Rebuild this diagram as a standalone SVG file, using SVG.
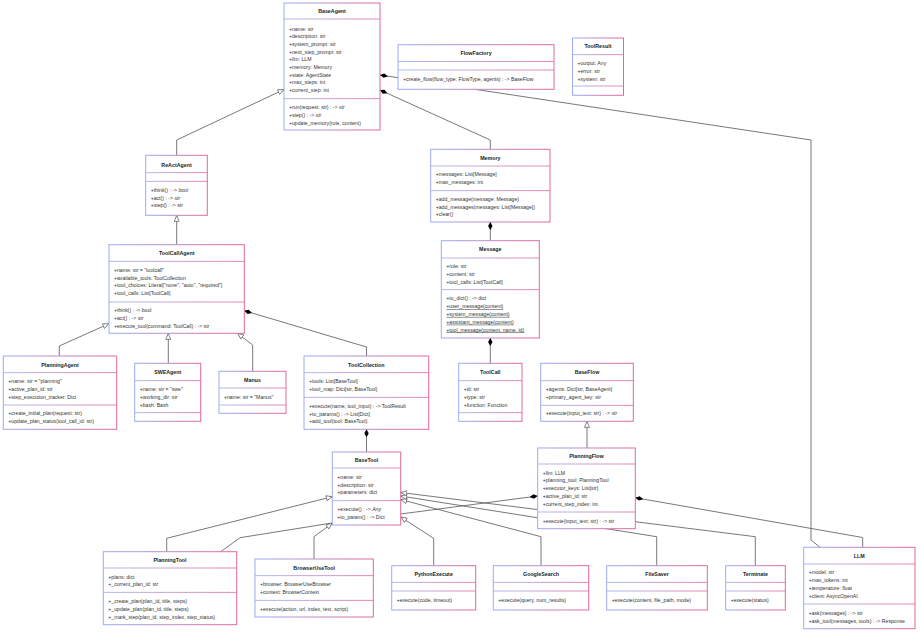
<svg xmlns="http://www.w3.org/2000/svg" width="920" height="634" viewBox="0 0 920 634">
<defs>
<linearGradient id="g" x1="0" y1="0" x2="1" y2="0">
<stop offset="0" stop-color="#9aacf2"/>
<stop offset="1" stop-color="#e3679b"/>
</linearGradient>
<marker id="tri" viewBox="0 0 7 6" refX="6.6" refY="3" markerWidth="7" markerHeight="6" markerUnits="userSpaceOnUse" orient="auto">
<path d="M0.5,0.5 L6.5,3 L0.5,5.5 Z" fill="#fff" stroke="#555" stroke-width="0.7"/>
</marker>
<marker id="dia" viewBox="0 0 8 5" refX="0" refY="2.5" markerWidth="8" markerHeight="5" markerUnits="userSpaceOnUse" orient="auto">
<path d="M0,2.5 L4,0.3 L8,2.5 L4,4.7 Z" fill="#000"/>
</marker>
</defs>
<style>
.box{fill:#fff;stroke:url(#g);stroke-width:1}
.d{fill:url(#g)}
.t{font-family:"Liberation Sans",Arial,sans-serif;font-size:5.3px;font-weight:bold;fill:#222;text-anchor:middle}
.a{font-family:"Liberation Sans",Arial,sans-serif;font-size:5.15px;fill:#333}
.u{text-decoration:underline}
.i{font-style:italic}
.c{fill:none;stroke:#555;stroke-width:0.8}
.ci{marker-end:url(#tri)}
.cd{marker-start:url(#dia)}
</style>
<rect width="920" height="634" fill="#fff"/>
<g id="connectors">
<path class="c ci" d="M176.7,155.3 L176.7,140 L284,89.5"/>
<path class="c ci" d="M176.7,244.7 L176.7,215.3"/>
<path class="c ci" d="M59.3,356 L59.3,346 L109,323.7"/>
<path class="c ci" d="M168.3,363.3 L168.3,333.3"/>
<path class="c ci" d="M252.7,371.3 L252.7,345 L237.5,333.3"/>
<path class="c cd" d="M380,90 L490.3,140 L490.3,149.3"/>
<path class="c cd" d="M380,75 L811,140 L811,540 L820,547.3"/>
<path class="c cd" d="M244.3,310.7 L366.5,347 L366.5,356"/>
<path class="c cd" d="M490.3,222 L490.3,240.7"/>
<path class="c cd" d="M490.3,338 L490.3,363.3"/>
<path class="c cd" d="M366.5,429.3 L366.5,452"/>
<path class="c ci" d="M587,448 L587,421.3"/>
<path class="c cd" d="M537.7,496 L332,523 L240,537.7 L220.7,551.7"/>
<path class="c cd" d="M635.3,497.7 L862.7,537.5 L862.7,547.3"/>
<path class="c ci" d="M166.7,551.7 L166.7,538.3 L332.3,496.7"/>
<path class="c ci" d="M314,559 L314,536.7 L332.3,523.3"/>
<path class="c ci" d="M433.7,565.7 L433.7,538.3 L400.7,517"/>
<path class="c ci" d="M541,565.7 L541,536.7 L400.7,499.5"/>
<path class="c ci" d="M656.7,565.7 L656.7,536.7 L400.7,496"/>
<path class="c ci" d="M755.3,565.7 L755.3,536.7 L400.7,492.5"/>
</g>
<g id="BaseAgent">
<rect class="box" x="284" y="3" width="96" height="127"/>
<text class="t" x="332" y="12.8">BaseAgent</text>
<rect class="d" x="284" y="18.6" width="96" height="0.8"/>
<text class="a" x="289" y="30.5">+name: str</text>
<text class="a" x="289" y="38.2">+description: str</text>
<text class="a" x="289" y="45.9">+system_prompt: str</text>
<text class="a" x="289" y="53.6">+next_step_prompt: str</text>
<text class="a" x="289" y="61.3">+llm: LLM</text>
<text class="a" x="289" y="69">+memory: Memory</text>
<text class="a" x="289" y="76.7">+state: AgentState</text>
<text class="a" x="289" y="84.4">+max_steps: int</text>
<text class="a" x="289" y="92.1">+current_step: int</text>
<rect class="d" x="284" y="98.3" width="96" height="0.8"/>
<text class="a" x="289" y="109.1">+run(request: str) : -&gt; <tspan class="i">str</tspan></text>
<text class="a" x="289" y="116.8">+step() : -&gt; <tspan class="i">str</tspan></text>
<text class="a" x="289" y="124.5">+update_memory(role, content)</text>
</g>
<g id="FlowFactory">
<rect class="box" x="398" y="44.7" width="156" height="44.6"/>
<text class="t" x="476" y="55.1">FlowFactory</text>
<rect class="d" x="398" y="61" width="156" height="0.8"/>
<rect class="d" x="398" y="69.6" width="156" height="0.8"/>
<text class="a" x="403" y="81.1">+create_flow(flow_type: FlowType, agents) : -&gt; BaseFlow</text>
</g>
<g id="ToolResult">
<rect class="box" x="572.5" y="38" width="51" height="57.3"/>
<text class="t" x="598" y="48.1">ToolResult</text>
<rect class="d" x="572.5" y="54.3" width="51" height="0.8"/>
<text class="a" x="577.5" y="65.1">+output: Any</text>
<text class="a" x="577.5" y="72.8">+error: str</text>
<text class="a" x="577.5" y="80.5">+system: str</text>
<rect class="d" x="572.5" y="85.6" width="51" height="0.8"/>
</g>
<g id="ReActAgent">
<rect class="box" x="145.7" y="155.3" width="61.6" height="60"/>
<text class="t" x="176.5" y="166.5">ReActAgent</text>
<rect class="d" x="145.7" y="172.3" width="61.6" height="0.8"/>
<rect class="d" x="145.7" y="180.9" width="61.6" height="0.8"/>
<text class="a" x="150.7" y="191.8">+think() : -&gt; <tspan class="i">bool</tspan></text>
<text class="a" x="150.7" y="199.5">+act() : -&gt; <tspan class="i">str</tspan></text>
<text class="a" x="150.7" y="207.2">+step() : -&gt; str</text>
</g>
<g id="ToolCallAgent">
<rect class="box" x="109" y="244.7" width="135.3" height="88.6"/>
<text class="t" x="176.7" y="255.1">ToolCallAgent</text>
<rect class="d" x="109" y="260.9" width="135.3" height="0.8"/>
<text class="a" x="114" y="271.8">+name: str = "toolcall"</text>
<text class="a" x="114" y="279.5">+available_tools: ToolCollection</text>
<text class="a" x="114" y="287.2">+tool_choices: Literal["none", "auto", "required"]</text>
<text class="a" x="114" y="294.9">+tool_calls: List[ToolCall]</text>
<rect class="d" x="109" y="301.6" width="135.3" height="0.8"/>
<text class="a" x="114" y="312.1">+think() : -&gt; bool</text>
<text class="a" x="114" y="319.8">+act() : -&gt; str</text>
<text class="a" x="114" y="327.5">+execute_tool(command: ToolCall) : -&gt; str</text>
</g>
<g id="Memory">
<rect class="box" x="430.7" y="149.3" width="119.3" height="72.7"/>
<text class="t" x="490.3" y="159.5">Memory</text>
<rect class="d" x="430.7" y="165.6" width="119.3" height="0.8"/>
<text class="a" x="435.7" y="176.1">+messages: List[Message]</text>
<text class="a" x="435.7" y="183.8">+max_messages: int</text>
<rect class="d" x="430.7" y="190.3" width="119.3" height="0.8"/>
<text class="a" x="435.7" y="200.8">+add_message(message: Message)</text>
<text class="a" x="435.7" y="208.5">+add_messages(messages: List[Message])</text>
<text class="a" x="435.7" y="216.2">+clear()</text>
</g>
<g id="Message">
<rect class="box" x="441.3" y="240.7" width="98" height="97.3"/>
<text class="t" x="490.3" y="251.1">Message</text>
<rect class="d" x="441.3" y="257.6" width="98" height="0.8"/>
<text class="a" x="446.3" y="268.1">+role: str</text>
<text class="a" x="446.3" y="275.8">+content: str</text>
<text class="a" x="446.3" y="283.5">+tool_calls: List[ToolCall]</text>
<rect class="d" x="441.3" y="289.3" width="98" height="0.8"/>
<text class="a" x="446.3" y="300.3">+to_dict() : -&gt; dict</text>
<text class="a u" x="446.3" y="308.1">+user_message(content)</text>
<text class="a u" x="446.3" y="315.9">+system_message(content)</text>
<text class="a u" x="446.3" y="323.7">+assistant_message(content)</text>
<text class="a u" x="446.3" y="331.5">+tool_message(content, name, id)</text>
</g>
<g id="PlanningAgent">
<rect class="box" x="3.3" y="356" width="113.4" height="73.3"/>
<text class="t" x="60" y="366.5">PlanningAgent</text>
<rect class="d" x="3.3" y="372.3" width="113.4" height="0.8"/>
<text class="a" x="8.3" y="383.3">+name: str = "planning"</text>
<text class="a" x="8.3" y="391">+active_plan_id: str</text>
<text class="a" x="8.3" y="398.7">+step_execution_tracker: Dict</text>
<rect class="d" x="3.3" y="404.6" width="113.4" height="0.8"/>
<text class="a" x="8.3" y="415.1">+create_initial_plan(request: str)</text>
<text class="a" x="8.3" y="422.8">+update_plan_status(tool_call_id: str)</text>
</g>
<g id="SWEAgent">
<rect class="box" x="134.7" y="363.3" width="66" height="58"/>
<text class="t" x="167.7" y="374.3">SWEAgent</text>
<rect class="d" x="134.7" y="380.3" width="66" height="0.8"/>
<text class="a" x="139.7" y="391.1">+name: str = "swe"</text>
<text class="a" x="139.7" y="398.8">+working_dir: str</text>
<text class="a" x="139.7" y="406.5">+bash: Bash</text>
<rect class="d" x="134.7" y="412.3" width="66" height="0.8"/>
</g>
<g id="Manus">
<rect class="box" x="219" y="371.3" width="67" height="42"/>
<text class="t" x="252.5" y="382">Manus</text>
<rect class="d" x="219" y="387.6" width="67" height="0.8"/>
<text class="a" x="224" y="398.5">+name: str = "Manus"</text>
<rect class="d" x="219" y="404.6" width="67" height="0.8"/>
</g>
<g id="ToolCollection">
<rect class="box" x="304" y="356" width="124.7" height="73.3"/>
<text class="t" x="366.3" y="366.5">ToolCollection</text>
<rect class="d" x="304" y="372.3" width="124.7" height="0.8"/>
<text class="a" x="309" y="383.1">+tools: List[BaseTool]</text>
<text class="a" x="309" y="390.8">+tool_map: Dict[str, BaseTool]</text>
<rect class="d" x="304" y="396.9" width="124.7" height="0.8"/>
<text class="a" x="309" y="407.8">+execute(name, tool_input) : -&gt; ToolResult</text>
<text class="a" x="309" y="415.5">+to_params() : -&gt; List[Dict]</text>
<text class="a" x="309" y="423.2">+add_tool(tool: BaseTool)</text>
</g>
<g id="ToolCall">
<rect class="box" x="458.7" y="363.3" width="63.3" height="58"/>
<text class="t" x="490.3" y="374.3">ToolCall</text>
<rect class="d" x="458.7" y="380.3" width="63.3" height="0.8"/>
<text class="a" x="463.7" y="391.1">+id: str</text>
<text class="a" x="463.7" y="398.8">+type: str</text>
<text class="a" x="463.7" y="406.5">+function: Function</text>
<rect class="d" x="458.7" y="412.3" width="63.3" height="0.8"/>
</g>
<g id="BaseFlow">
<rect class="box" x="540.7" y="363.3" width="92.6" height="58"/>
<text class="t" x="587" y="374.3">BaseFlow</text>
<rect class="d" x="540.7" y="380.3" width="92.6" height="0.8"/>
<text class="a" x="545.7" y="391.1">+agents: Dict[str, BaseAgent]</text>
<text class="a" x="545.7" y="398.8">+primary_agent_key: str</text>
<rect class="d" x="540.7" y="404.9" width="92.6" height="0.8"/>
<text class="a" x="545.7" y="415.1">+execute(input_text: str) : -&gt; <tspan class="i">str</tspan></text>
</g>
<g id="BaseTool">
<rect class="box" x="332.3" y="452" width="68.4" height="73"/>
<text class="t" x="366.5" y="461.8">BaseTool</text>
<rect class="d" x="332.3" y="467.6" width="68.4" height="0.8"/>
<text class="a" x="337.3" y="479.1">+name: str</text>
<text class="a" x="337.3" y="486.6">+description: str</text>
<text class="a" x="337.3" y="494.1">+parameters: dict</text>
<rect class="d" x="332.3" y="500.3" width="68.4" height="0.8"/>
<text class="a" x="337.3" y="511.1">+execute() : -&gt; <tspan class="i">Any</tspan></text>
<text class="a" x="337.3" y="519">+to_param() : -&gt; Dict</text>
</g>
<g id="PlanningFlow">
<rect class="box" x="537.7" y="448" width="97.6" height="80.7"/>
<text class="t" x="586.5" y="457.8">PlanningFlow</text>
<rect class="d" x="537.7" y="463.6" width="97.6" height="0.8"/>
<text class="a" x="542.7" y="474.5">+llm: LLM</text>
<text class="a" x="542.7" y="482.2">+planning_tool: PlanningTool</text>
<text class="a" x="542.7" y="490.2">+executor_keys: List[str]</text>
<text class="a" x="542.7" y="498">+active_plan_id: str</text>
<text class="a" x="542.7" y="505.8">+current_step_index: int</text>
<rect class="d" x="537.7" y="511.6" width="97.6" height="0.8"/>
<text class="a" x="542.7" y="522.5">+execute(input_text: str) : -&gt; str</text>
</g>
<g id="PlanningTool">
<rect class="box" x="103.3" y="551.7" width="133.4" height="73"/>
<text class="t" x="170" y="561.8">PlanningTool</text>
<rect class="d" x="103.3" y="567.6" width="133.4" height="0.8"/>
<text class="a" x="108.3" y="578.5">+plans: dict</text>
<text class="a" x="108.3" y="585.8">+_current_plan_id: str</text>
<rect class="d" x="103.3" y="591.9" width="133.4" height="0.8"/>
<text class="a" x="108.3" y="602.8">+_create_plan(plan_id, title, steps)</text>
<text class="a" x="108.3" y="610.8">+_update_plan(plan_id, title, steps)</text>
<text class="a" x="108.3" y="618.8">+_mark_step(plan_id, step_index, step_status)</text>
</g>
<g id="BrowserUseTool">
<rect class="box" x="255" y="559" width="118.3" height="58"/>
<text class="t" x="314.2" y="569.5">BrowserUseTool</text>
<rect class="d" x="255" y="575.3" width="118.3" height="0.8"/>
<text class="a" x="260" y="585.8">+browser: BrowserUseBrowser</text>
<text class="a" x="260" y="594.1">+context: BrowserContext</text>
<rect class="d" x="255" y="599.9" width="118.3" height="0.8"/>
<text class="a" x="260" y="610.8">+execute(action, url, index, text, script)</text>
</g>
<g id="PythonExecute">
<rect class="box" x="391.7" y="565.7" width="84" height="44.3"/>
<text class="t" x="433.7" y="576.1">PythonExecute</text>
<rect class="d" x="391.7" y="581.9" width="84" height="0.8"/>
<rect class="d" x="391.7" y="590.6" width="84" height="0.8"/>
<text class="a" x="396.7" y="601.8">+execute(code, timeout)</text>
</g>
<g id="GoogleSearch">
<rect class="box" x="493.3" y="565.7" width="95.4" height="44.3"/>
<text class="t" x="541" y="576.1">GoogleSearch</text>
<rect class="d" x="493.3" y="581.9" width="95.4" height="0.8"/>
<rect class="d" x="493.3" y="590.6" width="95.4" height="0.8"/>
<text class="a" x="498.3" y="601.8">+execute(query, num_results)</text>
</g>
<g id="FileSaver">
<rect class="box" x="606.7" y="565.7" width="100.6" height="44.3"/>
<text class="t" x="657" y="576.1">FileSaver</text>
<rect class="d" x="606.7" y="581.9" width="100.6" height="0.8"/>
<rect class="d" x="606.7" y="590.6" width="100.6" height="0.8"/>
<text class="a" x="611.7" y="601.8">+execute(content, file_path, mode)</text>
</g>
<g id="Terminate">
<rect class="box" x="725.7" y="565.7" width="59.6" height="44.3"/>
<text class="t" x="755.5" y="576.1">Terminate</text>
<rect class="d" x="725.7" y="581.9" width="59.6" height="0.8"/>
<rect class="d" x="725.7" y="590.6" width="59.6" height="0.8"/>
<text class="a" x="730.7" y="601.8">+execute(status)</text>
</g>
<g id="LLM">
<rect class="box" x="803.7" y="547.3" width="111.3" height="81.4"/>
<text class="t" x="859.3" y="557.8">LLM</text>
<rect class="d" x="803.7" y="563.6" width="111.3" height="0.8"/>
<text class="a" x="808.7" y="574.1">+model: str</text>
<text class="a" x="808.7" y="582.1">+max_tokens: int</text>
<text class="a" x="808.7" y="590.1">+temperature: float</text>
<text class="a" x="808.7" y="597.8">+client: AsyncOpenAI</text>
<rect class="d" x="803.7" y="603.6" width="111.3" height="0.8"/>
<text class="a" x="808.7" y="614.5">+ask(messages) : -&gt; str</text>
<text class="a" x="808.7" y="622.5">+ask_tool(messages, tools) : -&gt; Response</text>
</g>
</svg>
